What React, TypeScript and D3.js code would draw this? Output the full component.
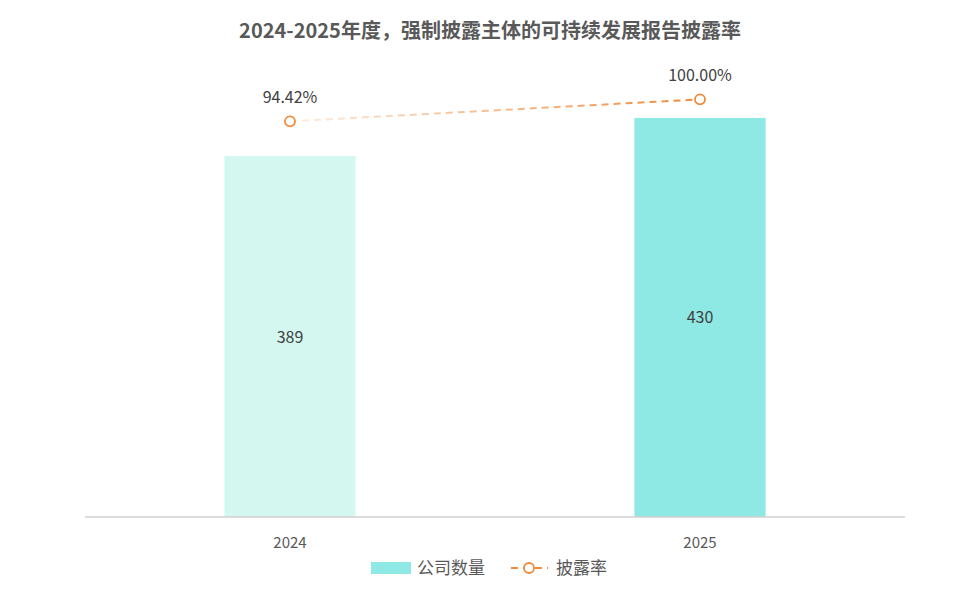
import { useEffect, useRef } from "react";
import * as d3 from "d3";

const years = ["2024", "2025"];
const counts = [389, 430];
const rates = [0.9442, 1.0];
const barColors = ["#d4f8f0", "#8ee8e3"];

const W = 976;
const H = 599;
const FONT = "'Noto Sans CJK SC', 'Noto Sans', sans-serif";

export default function App() {
  const ref = useRef<SVGSVGElement>(null);

  useEffect(() => {
    const svg = d3.select(ref.current);
    svg.selectAll("*").remove();

    const margin = { left: 85, right: 71, bottom: 82 };
    const baseY = H - margin.bottom;

    const x = d3.scaleBand().domain(years).range([margin.left, W - margin.right]).paddingInner(0.68).paddingOuter(0.34);
    const y = d3.scaleLinear().domain([0, 500]).range([baseY, 53]);
    const y2 = d3.scaleLinear().domain([0, 1.1]).range([493, 60]);

    svg.append("text").attr("x", W / 2 + 2).attr("y", 38).attr("text-anchor", "middle")
      .attr("font-size", 20).attr("font-weight", "bold").attr("fill", "#595959").attr("font-family", FONT)
      .text("2024-2025年度，强制披露主体的可持续发展报告披露率");

    svg.selectAll(".bar").data(counts).join("rect")
      .attr("x", (_, i) => x(years[i])!).attr("width", x.bandwidth())
      .attr("y", (d) => y(d)).attr("height", (d) => baseY - y(d))
      .attr("fill", (_, i) => barColors[i]);

    svg.selectAll(".blabel").data(counts).join("text")
      .attr("x", (_, i) => x(years[i])! + x.bandwidth() / 2)
      .attr("y", (d) => (y(d) + baseY) / 2 + 6).attr("text-anchor", "middle")
      .attr("font-size", 16).attr("fill", "#404040").attr("font-family", FONT).text((d) => d);

    svg.append("line").attr("x1", margin.left).attr("x2", W - margin.right)
      .attr("y1", baseY).attr("y2", baseY).attr("stroke", "#d0d0d0").attr("stroke-width", 1.5);

    svg.selectAll(".xt").data(years).join("text")
      .attr("x", (d) => x(d)! + x.bandwidth() / 2).attr("y", baseY + 31).attr("text-anchor", "middle")
      .attr("font-size", 15).attr("fill", "#595959").attr("font-family", FONT).text((d) => d);

    const cx = (i: number) => x(years[i])! + x.bandwidth() / 2;
    const defs = svg.append("defs");
    const grad = defs.append("linearGradient").attr("id", "lg").attr("gradientUnits", "userSpaceOnUse")
      .attr("x1", cx(0)).attr("x2", cx(1)).attr("y1", 0).attr("y2", 0);
    grad.append("stop").attr("offset", "0%").attr("stop-color", "#f08a3c").attr("stop-opacity", 0.15);
    grad.append("stop").attr("offset", "100%").attr("stop-color", "#f08a3c").attr("stop-opacity", 1);

    const line = d3.line<number>().x((_, i) => cx(i)).y((d) => y2(d));
    svg.append("path").attr("d", line(rates)).attr("fill", "none").attr("stroke", "url(#lg)")
      .attr("stroke-width", 2).attr("stroke-dasharray", "7,5");

    svg.selectAll(".dot").data(rates).join("circle")
      .attr("cx", (_, i) => cx(i)).attr("cy", (d) => y2(d)).attr("r", 5)
      .attr("fill", "white").attr("stroke", "#f08a3c").attr("stroke-width", 1.8);

    svg.selectAll(".rl").data(rates).join("text")
      .attr("x", (_, i) => cx(i)).attr("y", (d) => y2(d) - 18).attr("text-anchor", "middle")
      .attr("font-size", 16).attr("fill", "#404040").attr("font-family", FONT)
      .text((d) => d3.format(".2%")(d));

    const lg = svg.append("g").attr("transform", `translate(0, ${H - 31})`);
    lg.append("rect").attr("x", 371).attr("y", -6).attr("width", 40).attr("height", 12).attr("fill", "#8ee8e3");
    lg.append("text").attr("x", 417).attr("y", 6).attr("font-size", 17).attr("fill", "#595959")
      .attr("font-family", FONT).text("公司数量");
    lg.append("line").attr("x1", 511).attr("x2", 548).attr("y1", 0).attr("y2", 0)
      .attr("stroke", "#f08a3c").attr("stroke-width", 2).attr("stroke-dasharray", "7,5");
    lg.append("circle").attr("cx", 529).attr("cy", 0).attr("r", 5).attr("fill", "white")
      .attr("stroke", "#f08a3c").attr("stroke-width", 1.8);
    lg.append("text").attr("x", 556).attr("y", 6).attr("font-size", 17).attr("fill", "#595959")
      .attr("font-family", FONT).text("披露率");
  }, []);

  return <svg ref={ref} width={W} height={H} style={{ display: "block", margin: -8 }} />;
}
